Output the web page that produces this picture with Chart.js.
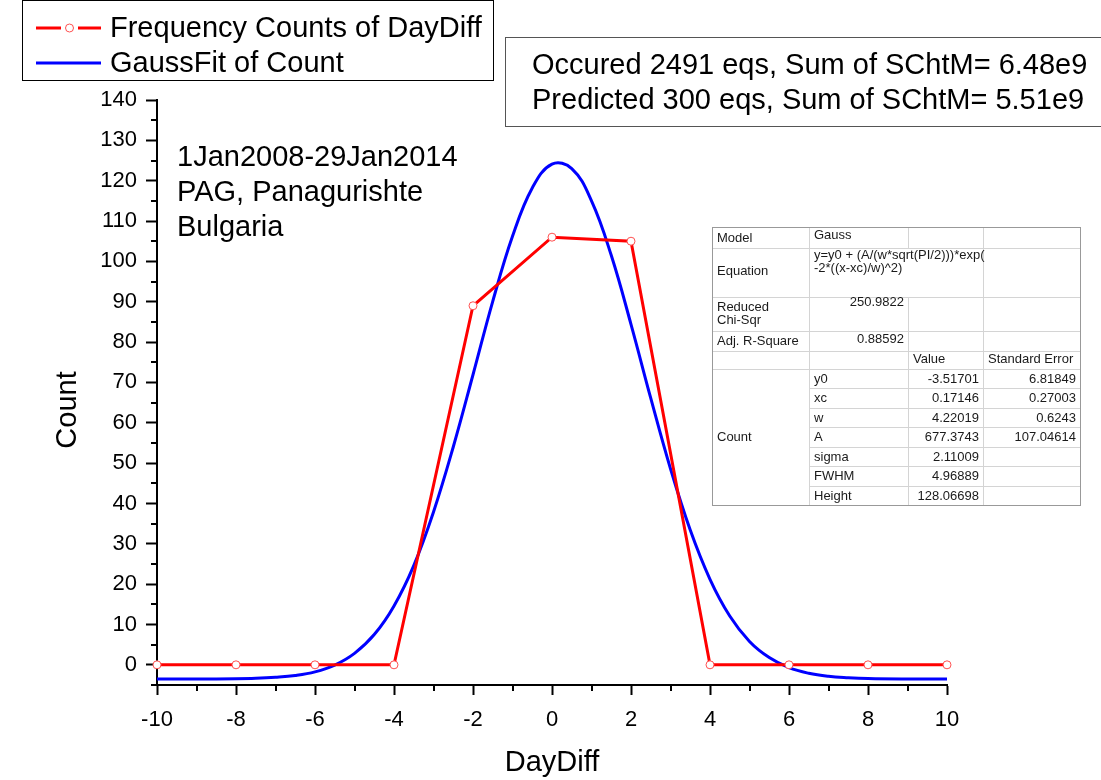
<!DOCTYPE html>
<html>
<head>
<meta charset="utf-8">
<script src="https://cdn.jsdelivr.net/npm/chart.js@4.4.1/dist/chart.umd.min.js"></script>
<style>
  html, body { margin: 0; padding: 0; background: #fff; }
  #wrap { width: 1101px; height: 780px; }
</style>
</head>
<body>
<div id="wrap"><canvas id="chart" width="1101" height="780"></canvas></div>
<script>
// frequency counts
const dayDiff = [-10, -8, -6, -4, -2, 0, 2, 4, 6, 8, 10];
const counts = [0, 0, 0, 0, 89, 106, 105, 0, 0, 0, 0];

// gauss fit curve
const fitX = [-10, -9, -8, -7.5, -7, -6.5, -6, -5.5, -5, -4.5, -4, -3.5, -3, -2.5, -2, -1.5, -1, -0.5,
  0, 0.5, 1, 1.5, 2, 2.5, 3, 3.5, 4, 4.5, 5, 5.5, 6, 6.5, 7, 7.5, 8, 9, 10];
const fitY = [-3.5, -3.5, -3.45, -3.35, -3.1, -2.65, -1.75, -0.05, 2.85, 7.5, 14.6, 24.6, 37.9, 54, 71.9, 90.1, 106.2, 118.2,
  124.1, 123, 115, 101.5, 84.4, 66.1, 48.6, 33.4, 21.2, 12.1, 5.8, 1.8, -0.7, -2.1, -2.85, -3.2, -3.4, -3.5, -3.5];

const xTicks = [-10, -8, -6, -4, -2, 0, 2, 4, 6, 8, 10];
const yTicks = [0, 10, 20, 30, 40, 50, 60, 70, 80, 90, 100, 110, 120, 130, 140];

const seriesNames = ['Frequency Counts of DayDiff', 'GaussFit of Count'];
const noteLines = ['1Jan2008-29Jan2014', 'PAG, Panagurishte', 'Bulgaria'];
const statLines = ['Occured 2491 eqs, Sum of SChtM= 6.48e9', 'Predicted 300 eqs, Sum of SChtM= 5.51e9'];

// fit report table
const paramNames = ['y0', 'xc', 'w', 'A', 'sigma', 'FWHM', 'Height'];
const paramValues = ['-3.51701', '0.17146', '4.22019', '677.3743', '2.11009', '4.96889', '128.06698'];
const paramErrors = ['6.81849', '0.27003', '0.6243', '107.04614', '', '', ''];

const FONT = '"Liberation Sans", Arial, sans-serif';

const extras = {
  id: 'extras',
  afterDraw(chart) {
    const ctx = chart.ctx;
    const xs = chart.scales.x, ys = chart.scales.y;
    const area = chart.chartArea;
    ctx.save();

    // minor ticks
    ctx.strokeStyle = '#000';
    ctx.lineWidth = 2;
    ctx.beginPath();
    for (let v = -5; v <= 135; v += 10) {
      const py = Math.round(ys.getPixelForValue(v));
      ctx.moveTo(area.left - 6, py);
      ctx.lineTo(area.left, py);
    }
    for (let v = -9; v <= 9; v += 2) {
      const px = Math.round(xs.getPixelForValue(v));
      ctx.moveTo(px, area.bottom);
      ctx.lineTo(px, area.bottom + 6);
    }
    ctx.stroke();

    // y axis title (sits a bit below the axis middle in the original)
    ctx.fillStyle = '#000';
    ctx.font = '29px ' + FONT;
    ctx.textAlign = 'center';
    ctx.textBaseline = 'middle';
    ctx.save();
    ctx.translate(68, 410);
    ctx.rotate(-Math.PI / 2);
    ctx.fillText('Count', 0, 0);
    ctx.restore();

    // legend
    ctx.lineWidth = 1;
    ctx.strokeStyle = '#000';
    ctx.strokeRect(22.5, 0.5, 471, 80);
    ctx.lineWidth = 3;
    ctx.strokeStyle = '#ff0000';
    ctx.beginPath();
    ctx.moveTo(36, 28); ctx.lineTo(61, 28);
    ctx.moveTo(78, 28); ctx.lineTo(101, 28);
    ctx.stroke();
    ctx.lineWidth = 1;
    ctx.fillStyle = '#fff';
    ctx.strokeStyle = '#ff5050';
    ctx.beginPath();
    ctx.arc(69.5, 28, 4, 0, Math.PI * 2);
    ctx.fill(); ctx.stroke();
    ctx.lineWidth = 3;
    ctx.strokeStyle = '#0000ff';
    ctx.beginPath();
    ctx.moveTo(36, 63); ctx.lineTo(101, 63);
    ctx.stroke();
    ctx.fillStyle = '#000';
    ctx.font = '29px ' + FONT;
    ctx.textBaseline = 'middle';
    ctx.textAlign = 'left';
    ctx.fillText(seriesNames[0], 110, 29);
    ctx.fillText(seriesNames[1], 110, 64);

    // stats box
    ctx.lineWidth = 1;
    ctx.strokeStyle = '#555';
    ctx.strokeRect(505.5, 37.5, 600, 89);
    ctx.font = '29px ' + FONT;
    ctx.fillText(statLines[0], 532, 66);
    ctx.fillText(statLines[1], 532, 101);

    // notes
    ctx.font = '29px ' + FONT;
    noteLines.forEach((t, i) => ctx.fillText(t, 177, 158 + i * 35));

    // table
    const cx = [712, 809, 908, 983, 1080];
    const ry = [227, 248, 297, 331, 351, 369, 388, 408, 427, 447, 466, 486, 505];
    ctx.fillStyle = '#fff';
    ctx.fillRect(cx[0], ry[0], cx[4] - cx[0], ry[12] - ry[0]);
    ctx.strokeStyle = '#d4d4d4';
    ctx.lineWidth = 1;
    ctx.beginPath();
    for (let r = 1; r < 12; r++) {
      const startCol = r >= 6 ? 1 : 0;
      ctx.moveTo(cx[startCol], ry[r] + 0.5);
      ctx.lineTo(cx[4], ry[r] + 0.5);
    }
    ctx.moveTo(cx[1] + 0.5, ry[0]); ctx.lineTo(cx[1] + 0.5, ry[12]);
    ctx.moveTo(cx[2] + 0.5, ry[0]); ctx.lineTo(cx[2] + 0.5, ry[1]);
    ctx.moveTo(cx[2] + 0.5, ry[2]); ctx.lineTo(cx[2] + 0.5, ry[12]);
    ctx.moveTo(cx[3] + 0.5, ry[0]); ctx.lineTo(cx[3] + 0.5, ry[12]);
    ctx.stroke();
    ctx.strokeStyle = '#999';
    ctx.strokeRect(cx[0] + 0.5, ry[0] + 0.5, cx[4] - cx[0], ry[12] - ry[0]);

    ctx.fillStyle = '#1a1a1a';
    ctx.font = '13px ' + FONT;
    ctx.textBaseline = 'alphabetic';
    const L = (t, c, y) => { ctx.textAlign = 'left'; ctx.fillText(t, cx[c] + 5, y); };
    const R = (t, c, y) => { ctx.textAlign = 'right'; ctx.fillText(t, cx[c + 1] - 4, y); };
    L('Model', 0, 242); L('Gauss', 1, 239);
    L('Equation', 0, 275);
    L('y=y0 + (A/(w*sqrt(PI/2)))*exp(', 1, 259);
    L('-2*((x-xc)/w)^2)', 1, 272);
    L('Reduced', 0, 311); L('Chi-Sqr', 0, 324); R('250.9822', 1, 306);
    L('Adj. R-Square', 0, 345); R('0.88592', 1, 343);
    L('Value', 2, 363); L('Standard Error', 3, 363);
    L('Count', 0, 441);
    paramNames.forEach((n, i) => {
      const y = ry[5 + i] + 14;
      L(n, 1, y);
      R(paramValues[i], 2, y);
      if (paramErrors[i]) R(paramErrors[i], 3, y);
    });
    ctx.restore();
  }
};

new Chart(document.getElementById('chart'), {
  type: 'line',
  data: {
    datasets: [
      {
        label: seriesNames[0],
        data: dayDiff.map((x, i) => ({ x: x, y: counts[i] })),
        borderColor: '#ff0000',
        borderWidth: 3,
        pointRadius: 4,
        pointBackgroundColor: '#ffffff',
        pointBorderColor: '#ff5050',
        pointBorderWidth: 1,
        tension: 0,
        clip: 8
      },
      {
        label: seriesNames[1],
        data: fitX.map((x, i) => ({ x: x, y: fitY[i] })),
        borderColor: '#0000ff',
        borderWidth: 3,
        pointRadius: 0,
        tension: 0.4
      }
    ]
  },
  options: {
    responsive: false,
    animation: false,
    devicePixelRatio: 1,
    layout: { padding: { top: 100, right: 154, left: 0, bottom: 0 } },
    plugins: { legend: { display: false }, tooltip: { enabled: false } },
    scales: {
      x: {
        type: 'linear',
        min: -10,
        max: 10,
        afterFit: s => { s.height = 95; },
        afterBuildTicks: s => { s.ticks = xTicks.map(v => ({ value: v })); },
        grid: { drawOnChartArea: false, drawTicks: true, tickLength: 10, tickWidth: 2, tickColor: '#000' },
        border: { display: true, color: '#000', width: 2 },
        ticks: { color: '#000', padding: 12, font: { family: FONT, size: 22 }, maxRotation: 0 },
        title: { display: true, text: 'DayDiff', color: '#000', font: { family: FONT, size: 29 }, padding: { top: 0, bottom: 0 } }
      },
      y: {
        min: -5,
        max: 140,
        afterFit: s => { s.width = 157; },
        afterBuildTicks: s => { s.ticks = yTicks.map(v => ({ value: v })); },
        grid: { drawOnChartArea: false, drawTicks: true, tickLength: 11, tickWidth: 2, tickColor: '#000' },
        border: { display: true, color: '#000', width: 2 },
        ticks: { color: '#000', padding: 9, font: { family: FONT, size: 22 } },
        title: { display: false }
      }
    }
  },
  plugins: [extras]
});
</script>
</body>
</html>
